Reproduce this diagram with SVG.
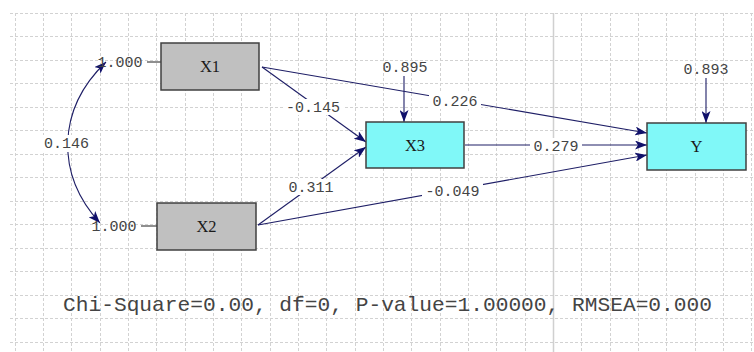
<svg xmlns="http://www.w3.org/2000/svg" width="754" height="352" viewBox="0 0 754 352">
<style>
.grid{stroke:#d2d2d2;stroke-width:1;stroke-dasharray:3,2;fill:none}
.axis{stroke:#d0d0d0;stroke-width:1.5;fill:none}
.box{stroke:#404040;stroke-width:1.5}
.obs{fill:#c0c0c0}
.lat{fill:#80f8f8}
.lbl{font-family:"Liberation Serif","Times New Roman",serif;font-size:16.5px;fill:#1a1a1a;text-anchor:middle}
.num{font-family:"Liberation Mono","Courier New",monospace;font-size:15px;fill:#444;text-anchor:middle}
.conn{stroke:#1e1e66;stroke-width:1.1;fill:none}
.stub{stroke:#333;stroke-width:1.1}
.bg{fill:#ffffff}
.fit{font-family:"Liberation Mono","Courier New",monospace;font-size:20.8px;fill:#444}
</style>
<defs>
<marker id="ah" markerUnits="userSpaceOnUse" markerWidth="13" markerHeight="9" refX="12" refY="4.5" orient="auto-start-reverse">
<path d="M0,0 L12,4.5 L0,9 L3,4.5 z" fill="#10106a"/>
</marker>
</defs>
<rect width="754" height="352" fill="#ffffff"/>
<g id="grid">
<path class="grid" d="M15.5,13V352M43.5,13V352M71.5,13V352M100.5,13V352M128.5,13V352M156.5,13V352M185.5,13V352M213.5,13V352M241.5,13V352M270.5,13V352M298.5,13V352M326.5,13V352M355.5,13V352M383.5,13V352M411.5,13V352M440.5,13V352M468.5,13V352M496.5,13V352M525.5,13V352M581.5,13V352M610.5,13V352M638.5,13V352M666.5,13V352M695.5,13V352M723.5,13V352M751.5,13V352"/>
<path class="grid" d="M10,13.5H754M10,36.5H754M10,60.5H754M10,83.5H754M10,107.5H754M10,130.5H754M10,154.5H754M10,177.5H754M10,201.5H754M10,224.5H754M10,248.5H754M10,271.5H754M10,295.5H754M10,318.5H754M10,342.5H754"/>
<path class="axis" d="M553.5,13V352"/>
</g>
<g id="connectors">
<path class="conn" d="M106,62 C56,110 56,175 100,223" marker-start="url(#ah)" marker-end="url(#ah)"/>
<line class="conn" x1="262" y1="67" x2="366" y2="142" marker-end="url(#ah)"/>
<line class="conn" x1="258" y1="225" x2="366" y2="147" marker-end="url(#ah)"/>
<line class="conn" x1="262" y1="67" x2="647" y2="133" marker-end="url(#ah)"/>
<line class="conn" x1="465" y1="145" x2="647" y2="145" marker-end="url(#ah)"/>
<line class="conn" x1="258" y1="225" x2="647" y2="155" marker-end="url(#ah)"/>
<line class="conn" x1="404" y1="76" x2="404" y2="122" marker-end="url(#ah)"/>
<line class="conn" x1="706" y1="78" x2="706" y2="123" marker-end="url(#ah)"/>
<line class="stub" x1="147" y1="62" x2="161" y2="62"/>
<line class="stub" x1="141" y1="226" x2="157" y2="226"/>
</g>
<g id="labels">
<rect class="bg" x="42" y="135" width="49" height="17"/>
<text class="num" x="66.5" y="148">0.146</text>
<rect class="bg" x="283" y="99" width="60" height="16"/>
<text class="num" x="313" y="112">-0.145</text>
<rect class="bg" x="286" y="179" width="50" height="16"/>
<text class="num" x="311" y="192">0.311</text>
<rect class="bg" x="429" y="93" width="52" height="16"/>
<text class="num" x="455" y="106">0.226</text>
<rect class="bg" x="530" y="138" width="52" height="16"/>
<text class="num" x="556" y="151">0.279</text>
<rect class="bg" x="422" y="183" width="61" height="16"/>
<text class="num" x="452.5" y="196">-0.049</text>
<text class="num" x="405" y="72">0.895</text>
<text class="num" x="706" y="74">0.893</text>
</g>
<g id="node-X1">
<rect class="box obs" x="161" y="43" width="98" height="47"/>
<text class="lbl" x="210" y="72">X1</text>
<text class="num" x="120" y="67">1.000</text>
</g>
<g id="node-X2">
<rect class="box obs" x="157" y="203" width="99" height="47"/>
<text class="lbl" x="206.5" y="232">X2</text>
<text class="num" x="114" y="231">1.000</text>
</g>
<g id="node-X3">
<rect class="box lat" x="366" y="122" width="98" height="46"/>
<text class="lbl" x="415" y="151">X3</text>
</g>
<g id="node-Y">
<rect class="box lat" x="647" y="123" width="99" height="47"/>
<text class="lbl" x="696.5" y="152">Y</text>
</g>
<g id="fit">
<text class="fit" x="63" y="311" textLength="649" lengthAdjust="spacingAndGlyphs">Chi-Square=0.00, df=0, P-value=1.00000, RMSEA=0.000</text>
</g>
</svg>
